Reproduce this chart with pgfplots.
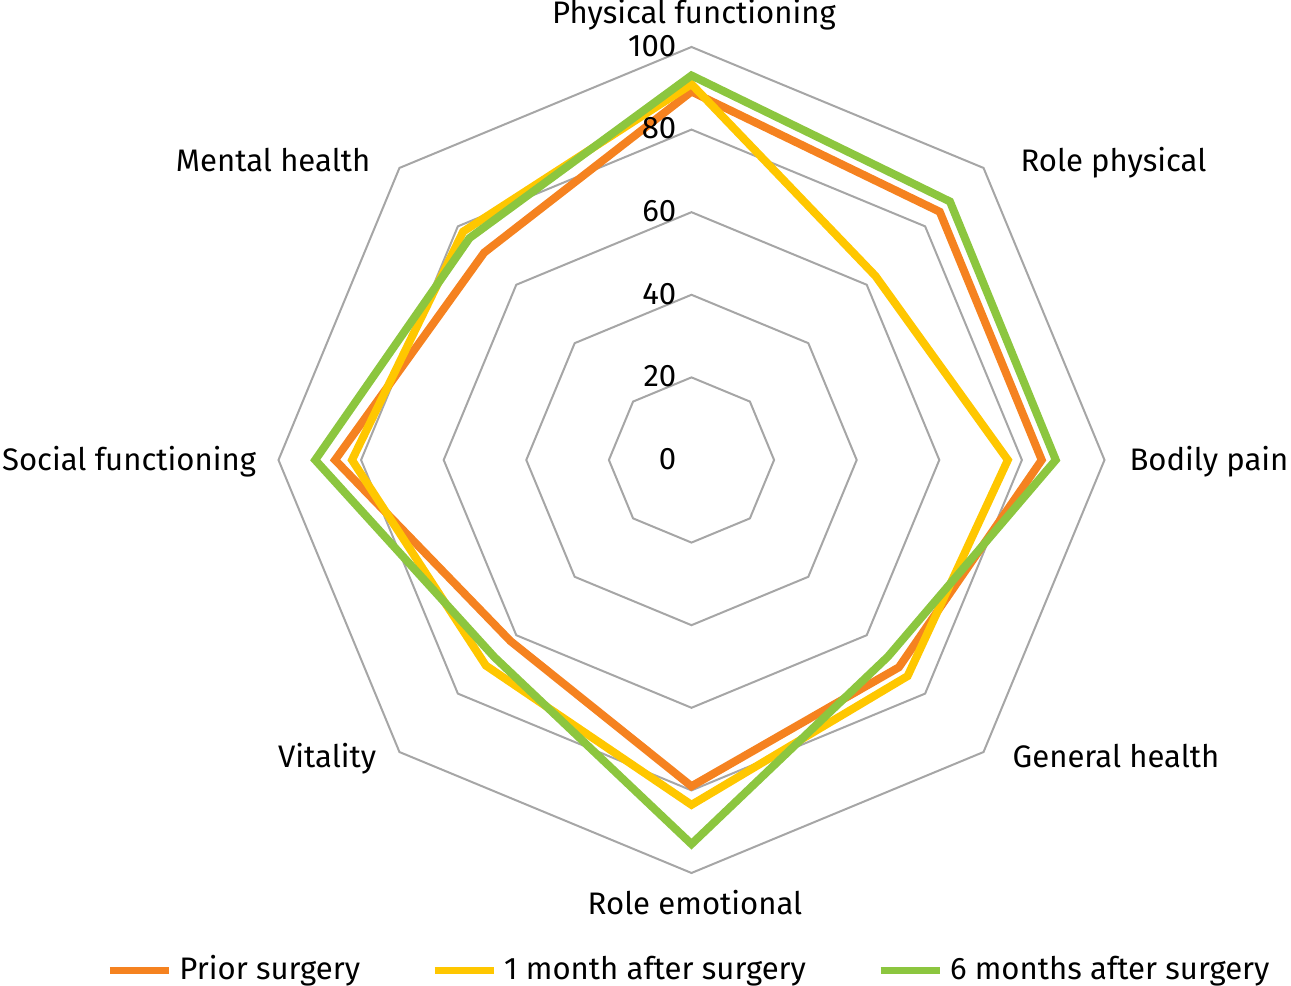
\documentclass[border=0pt]{standalone}
\usepackage{pgfplots}
\pgfplotsset{compat=1.18}
\usepackage{fontspec}
\setmainfont{Fira Sans}
\definecolor{cOrange}{RGB}{245,130,32}
\definecolor{cYellow}{RGB}{255,199,0}
\definecolor{cGreen}{RGB}{140,198,63}
\definecolor{cGrid}{RGB}{166,166,166}
\begin{document}
\begin{tikzpicture}[font=\fontsize{8.85}{10.5}\selectfont]
\begin{axis}[
  scale only axis, width=12.91cm, height=9.86cm,
  xmin=-167.43, xmax=145.16, ymin=-127.36, ymax=111.38,
  axis lines=none, clip=false,
  legend columns=3,
  legend style={draw=none, fill=none, at={(0.5356,0.0162)}, anchor=center,
    /tikz/every even column/.append style={column sep=0.64cm},
    nodes={inner xsep=0.07cm},
    font=\fontsize{8.85}{10.5}\selectfont},
  legend image code/.code={\draw[#1, line width=0.07cm] (0cm,0cm) -- (0.59cm,0cm);},
]
% grid octagons
\foreach \r in {20,40,60,80,100}{
  \edef\tmp{\noexpand\addplot[cGrid, line width=0.02cm, forget plot, data cs=polar, mark=none]
    coordinates {(90,\r)(45,\r)(0,\r)(-45,\r)(-90,\r)(-135,\r)(180,\r)(135,\r)} -- cycle;}
  \tmp
}
\addplot[cOrange, line width=0.08cm, data cs=polar, mark=none]
  coordinates {(90,89.2)(45,85)(0,84.8)(-45,71)(-90,79)(-135,62)(180,86.3)(135,71)} -- cycle;
\addlegendentry{Prior surgery}
\addplot[cYellow, line width=0.08cm, data cs=polar, mark=none]
  coordinates {(90,91)(45,63)(0,76.6)(-45,74)(-90,83.5)(-135,70.4)(180,82.2)(135,78.2)} -- cycle;
\addlegendentry{1 month after surgery}
\addplot[cGreen, line width=0.08cm, data cs=polar, mark=none]
  coordinates {(90,93.1)(45,88.5)(0,88.2)(-45,67.3)(-90,93)(-135,67.5)(180,91.1)(135,76)} -- cycle;
\addlegendentry{6 months after surgery}
% tick labels
\foreach \v in {0,20,40,60,80,100}{
  \edef\tmp{\noexpand\node[anchor=mid east, inner sep=0pt] at (axis cs:-3.5,\v) {\v};}
  \tmp
}
% category labels
\node[anchor=mid, inner sep=0pt] at (axis cs:0.6,108) {Physical functioning};
\node[anchor=mid west, inner sep=0pt] at (axis cs:79.5,72.2) {Role physical};
\node[anchor=mid east, inner sep=0pt] at (axis cs:144.7,-0.24) {Bodily pain};
\node[anchor=mid west, inner sep=0pt] at (axis cs:77.6,-72.2) {General health};
\node[anchor=mid, inner sep=0pt] at (axis cs:0.85,-107.7) {Role emotional};
\node[anchor=mid east, inner sep=0pt] at (axis cs:-76.2,-72.2) {Vitality};
\node[anchor=mid west, inner sep=0pt] at (axis cs:-167.1,-0.24) {Social functioning};
\node[anchor=mid east, inner sep=0pt] at (axis cs:-77.6,72.2) {Mental health};
\end{axis}
\pgfresetboundingbox
\path[use as bounding box] (current axis.south west) rectangle (current axis.north east);
\end{tikzpicture}
\end{document}
